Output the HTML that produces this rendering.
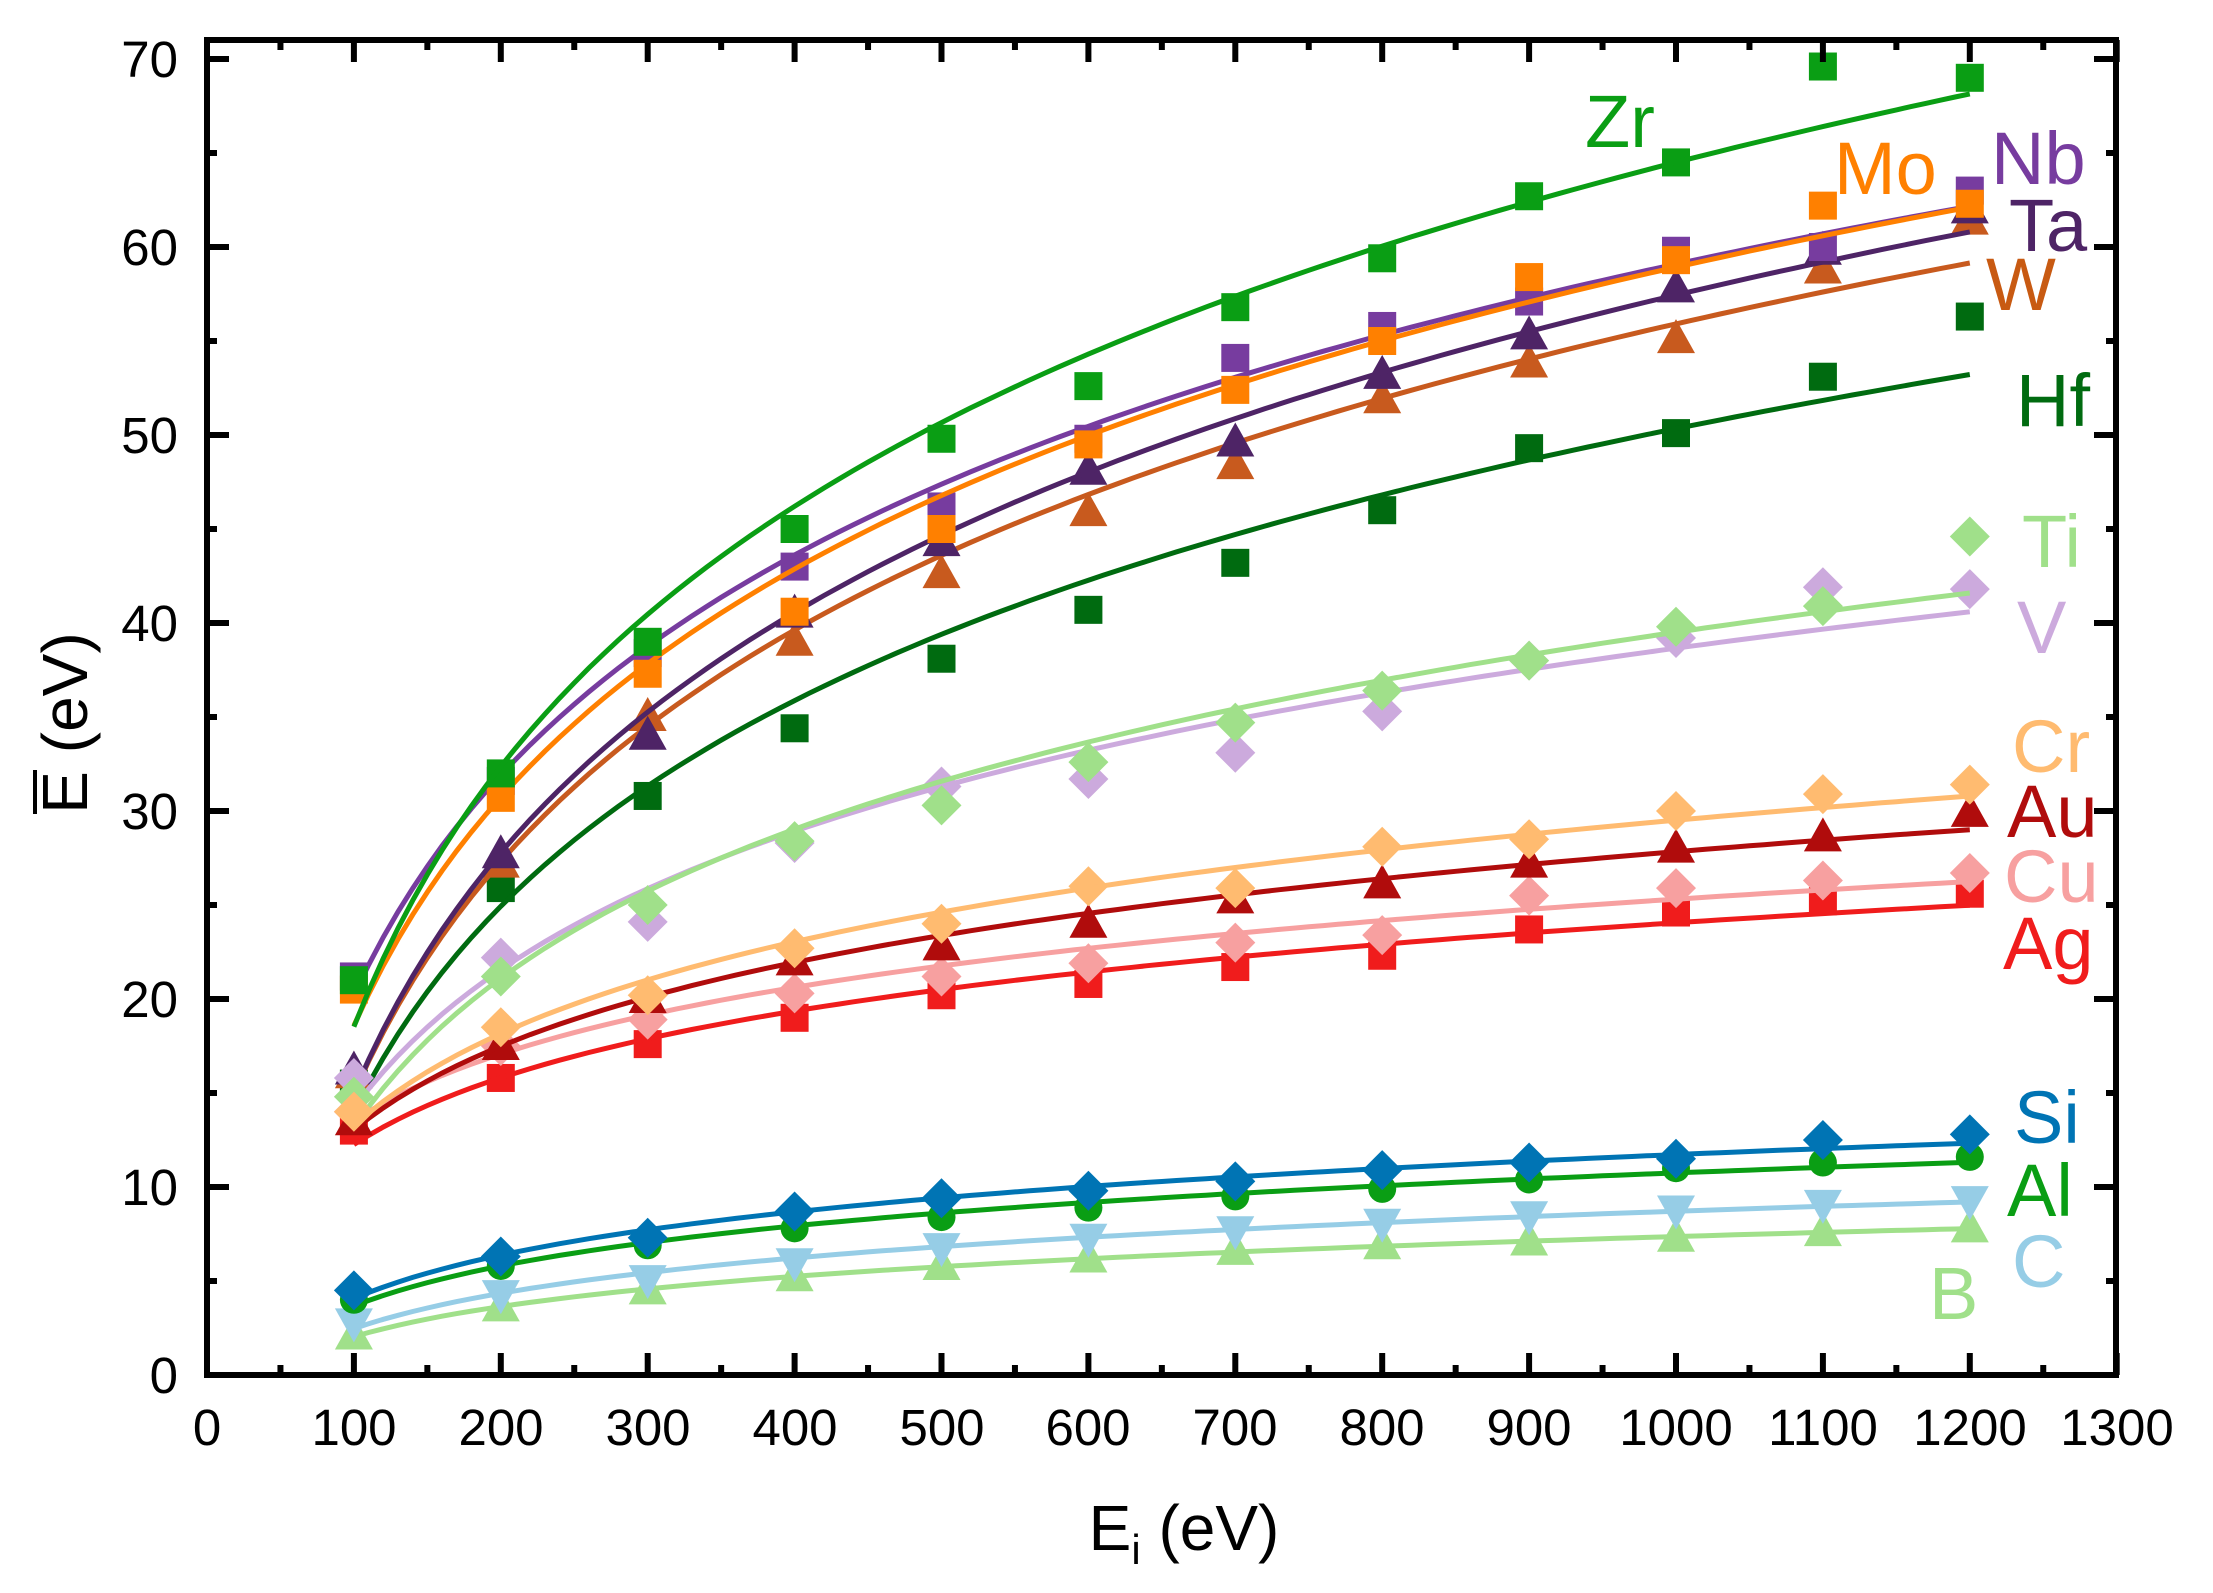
<!DOCTYPE html>
<html><head><meta charset="utf-8">
<style>
html,body{margin:0;padding:0;background:#fff;}
svg{display:block;font-family:"Liberation Sans",Arial,sans-serif;}
</style></head>
<body>
<svg id="s" width="2213" height="1593" viewBox="0 0 2213 1593" xmlns="http://www.w3.org/2000/svg">
<rect width="2213" height="1593" fill="#fff"/>
<g id="plot"></g>
<g id="axes" stroke="#000" stroke-width="6" fill="none"></g>
<g font-size="51" fill="#000" text-anchor="end" id="ylab">
<text x="178" y="1393">0</text>
<text x="178" y="1205">10</text>
<text x="178" y="1017">20</text>
<text x="178" y="829">30</text>
<text x="178" y="641">40</text>
<text x="178" y="453">50</text>
<text x="178" y="265">60</text>
<text x="178" y="77">70</text>
</g>
<g font-size="51" fill="#000" text-anchor="middle">
<text x="207" y="1445">0</text>
<text x="354" y="1445">100</text>
<text x="501" y="1445">200</text>
<text x="648" y="1445">300</text>
<text x="795" y="1445">400</text>
<text x="942" y="1445">500</text>
<text x="1088" y="1445">600</text>
<text x="1235" y="1445">700</text>
<text x="1382" y="1445">800</text>
<text x="1529" y="1445">900</text>
<text x="1676" y="1445">1000</text>
<text x="1823" y="1445">1100</text>
<text x="1970" y="1445">1200</text>
<text x="2117" y="1445">1300</text>
</g>
<text x="1184" y="1550" font-size="64" text-anchor="middle">E<tspan font-size="42" dy="14">i</tspan><tspan dy="-14"> (eV)</tspan></text>
<g transform="translate(87,723) rotate(-90)">
<text x="0" y="0" font-size="64" text-anchor="middle">E (eV)</text>
<line x1="-91" y1="-52" x2="-47" y2="-52" stroke="#000" stroke-width="4"/>
</g>
<g font-size="74">
<text x="1585" y="147" fill="#0a9e14">Zr</text>
<text x="1834" y="194" fill="#ff8000">Mo</text>
<text x="1991" y="184" fill="#773c9f">Nb</text>
<text x="2009" y="251" fill="#4e2466">Ta</text>
<text x="1986" y="310" fill="#c85a12">W</text>
<text x="2016" y="426" fill="#006b10">Hf</text>
<text x="2022" y="567" fill="#a0e08a">Ti</text>
<text x="2017" y="653" fill="#ccaadd">V</text>
<text x="2012" y="772" fill="#ffbb70">Cr</text>
<text x="2007" y="837" fill="#b00c0c">Au</text>
<text x="2004" y="902" fill="#f7a0a0">Cu</text>
<text x="2003" y="969" fill="#f01c1c">Ag</text>
<text x="2014" y="1143" fill="#0074b4">Si</text>
<text x="2007" y="1216" fill="#0a9e14">Al</text>
<text x="2012" y="1287" fill="#96cde6">C</text>
<text x="1929" y="1319" fill="#a0e08a">B</text>
</g>
<script>
(function(){
var NS="http://www.w3.org/2000/svg";
function X(v){return 207+1.469*v;}
function Y(v){return 1375-18.8*v;}
function el(t,a,p){var e=document.createElementNS(NS,t);for(var k in a)e.setAttribute(k,a[k]);p.appendChild(e);return e;}
var S=[
["#006b10","s",[15.5,25.9,30.8,34.4,38.1,40.7,43.2,46,49.3,50.1,53.1,56.3]],
["#c85a1e","t",[16,27.2,35,39,42.6,45.9,48.4,51.9,53.8,55.1,58.8,61.4]],
["#4e2466","t",[16.2,27.7,34,40.5,44.3,48.1,49.6,53.2,55.3,57.8,59.8,62]],
["#773c9f","s",[21.2,31.6,38.4,43,46.2,49.8,54.1,55.8,57.1,59.8,60,63]],
["#ff8000","s",[20.5,30.7,37.3,40.6,45,49.5,52.4,55,58.4,59.3,62.2,62.3]],
["#0a9e14","s",[21,32,39,45,49.8,52.6,56.8,59.4,62.7,64.5,69.6,69]],
["#ccaadd","d",[15.8,22.2,24.1,28.3,31.3,31.7,33.1,35.3,38,39.2,41.9,41.8]],
["#a0e08a","d",[14.8,21.2,25,28.4,30.3,32.6,34.7,36.4,38,39.8,40.9,44.6]],
["#f01c1c","s",[13,15.8,17.6,19,20.2,20.8,21.7,22.3,23.7,24.6,25.2,25.6]],
["#f7a0a0","d",[14,17.5,18.9,20.3,21.2,21.9,23,23.4,25.5,25.9,26.3,26.7]],
["#b00c0c","t",[13.5,17.5,20,22,22.8,24,25.3,26.1,27.2,28,28.6,29.9]],
["#ffbb70","d",[14,18.5,20.2,22.7,24,26,25.9,28.1,28.5,30,30.9,31.4]],
["#a0e08a","t",[2.1,3.6,4.5,5.2,5.8,6.2,6.6,6.9,7.1,7.3,7.6,7.8]],
["#96cde6","v",[2.8,4.3,5.1,6,6.8,7.3,7.7,8.1,8.5,8.8,9.1,9.3]],
["#0a9e14","c",[4,5.8,6.9,7.8,8.4,8.9,9.5,9.9,10.4,11,11.3,11.6]],
["#0074b4","d",[4.5,6.3,7.3,8.7,9.4,9.8,10.3,10.9,11.3,11.5,12.5,12.8]]
];
var g=document.getElementById("plot");
S.forEach(function(s){
 var c=s[0],m=s[1],d=s[2];
 d.forEach(function(v,i){
  var x=X(100*(i+1)),y=Y(v);
  if(m=="s")el("rect",{x:x-14,y:y-14,width:28,height:28,fill:c},g);
  else if(m=="d")el("polygon",{points:(x)+","+(y-20)+" "+(x+20)+","+y+" "+x+","+(y+20)+" "+(x-20)+","+y,fill:c},g);
  else if(m=="t")el("polygon",{points:x+","+(y-20)+" "+(x+19)+","+(y+14)+" "+(x-19)+","+(y+14),fill:c},g);
  else if(m=="v")el("polygon",{points:x+","+(y+20)+" "+(x+19)+","+(y-14)+" "+(x-19)+","+(y-14),fill:c},g);
  else el("circle",{cx:x,cy:y,r:14,fill:c},g);
 });
 var n=d.length,sx=0,sy=0,sxx=0,sxy=0;
 d.forEach(function(v,i){var l=Math.log(100*(i+1));sx+=l;sy+=v;sxx+=l*l;sxy+=l*v;});
 var b=(n*sxy-sx*sy)/(n*sxx-sx*sx),a=(sy-b*sx)/n;
 var p="";
 for(var e=100;e<=1200;e+=10){p+=(e==100?"M":"L")+X(e).toFixed(1)+","+Y(a+b*Math.log(e)).toFixed(1);}
 el("path",{d:p,stroke:c,"stroke-width":5,fill:"none"},g);
});
var ax=document.getElementById("axes");
el("rect",{x:207,y:40,width:1909,height:1335},ax);
for(var v=0;v<=1300;v+=50){
 var L=(v%100==0)?22:10, x=X(v);
 el("line",{x1:x,y1:1375,x2:x,y2:1375-L},ax);
 el("line",{x1:x,y1:40,x2:x,y2:40+L},ax);
}
for(var v=0;v<=70;v+=5){
 var L=(v%10==0)?22:10, y=Y(v);
 el("line",{x1:207,y1:y,x2:207+L,y2:y},ax);
 el("line",{x1:2116,y1:y,x2:2116-L,y2:y},ax);
}
})();
</script>
</svg>
</body></html>
